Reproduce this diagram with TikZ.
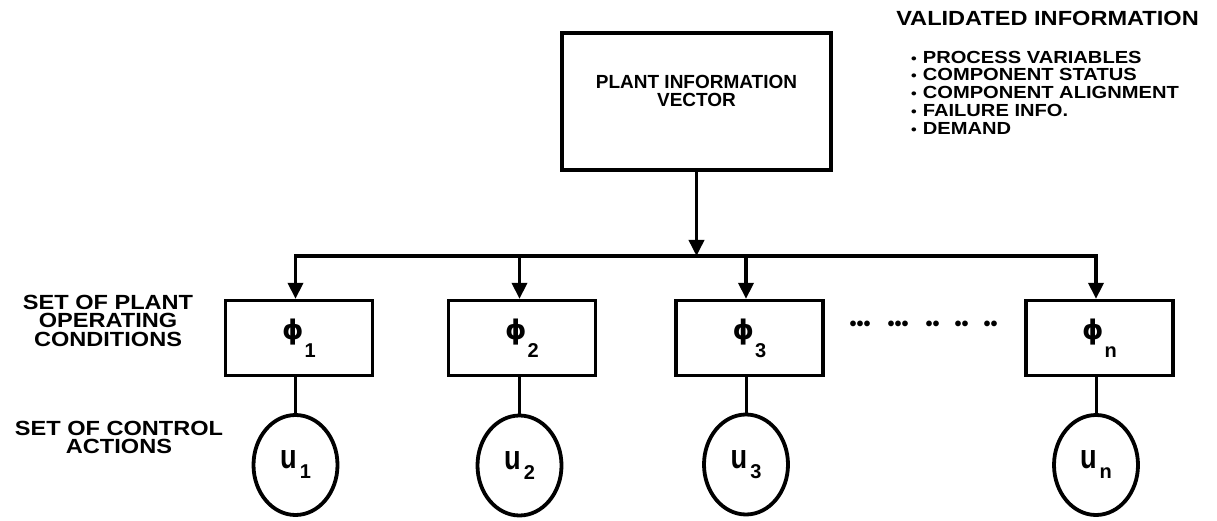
\documentclass[tikz,border=0pt]{standalone}
\usepackage{fontspec}
\setmainfont{Liberation Sans}
\newfontfamily\widefont{Liberation Sans}[FakeStretch=1.15]
\newfontfamily\phifont{DejaVu Sans}
\newfontfamily\ufont{Liberation Sans}[FakeStretch=0.8]
\usetikzlibrary{arrows.meta,shapes.geometric}
\tikzset{
  >={Triangle[width=15pt,length=16pt]},
  wire/.style={line width=3.6pt, line join=miter},
  thinwire/.style={line width=3pt},
  bigbox/.style={draw, line width=3.4pt, rectangle, minimum width=269pt, minimum height=137pt, inner sep=0pt},
  opbox/.style={draw, line width=3.3pt, rectangle, minimum width=147pt, minimum height=75pt, inner sep=0pt},
  act/.style={draw, line width=3.8pt, ellipse, minimum width=84pt, minimum height=100pt, inner sep=0pt},
  boxtext/.style={inner sep=0pt, align=center, font=\bfseries\fontsize{19}{18}\selectfont},
  sidetext/.style={inner sep=0pt, align=center, font=\widefont\bfseries\fontsize{20.5}{18.5}\selectfont},
  titletext/.style={inner sep=0pt, font=\widefont\bfseries\fontsize{20.5}{20}\selectfont},
  listtext/.style={inner sep=0pt, align=left, font=\widefont\bfseries\fontsize{17.5}{17.8}\selectfont},
  dotstext/.style={inner sep=0pt, font=\bfseries\fontsize{20}{20}\selectfont},
}
\newcommand{\phisub}[1]{{\phifont\bfseries\fontsize{27}{27}\selectfont ϕ}\hspace{1pt}\raisebox{-18pt}{\bfseries\fontsize{20}{20}\selectfont #1}}
\newcommand{\usub}[1]{{\ufont\bfseries\fontsize{34}{34}\selectfont u}\hspace{3pt}\raisebox{-10pt}{\bfseries\fontsize{20}{20}\selectfont #1}}
\newcommand{\lbul}{{\fontsize{14}{14}\selectfont •}\hspace{6pt}}
\begin{document}
\begin{tikzpicture}[x=1pt,y=-1pt]
\useasboundingbox (0,0) rectangle (1217,521);

% top box
\node[bigbox] (piv) at (696.5,101.5) {};
\node[boxtext, anchor=north] (pivt) at (696.5,75) {PLANT INFORMATION\\VECTOR};

% validated information
\node[titletext, anchor=north] (vtitle) at (1047.5,10.5) {VALIDATED INFORMATION};
\node[listtext, anchor=north west] (vlist) at (911,50.7) {\lbul PROCESS VARIABLES\\
\lbul COMPONENT STATUS\\
\lbul COMPONENT ALIGNMENT\\
\lbul FAILURE INFO.\\
\lbul DEMAND};

% side labels
\node[sidetext, anchor=north] (lab1) at (108,294.5) {SET OF PLANT\\OPERATING\\CONDITIONS};
\node[sidetext, anchor=north] (lab2) at (119,420.5) {SET OF CONTROL\\ACTIONS};

% operating condition boxes
\node[opbox] (b1) at (299,338) {\phisub{1}};
\node[opbox] (b2) at (522,338) {\phisub{2}};
\node[opbox] (b3) at (749.5,338) {\phisub{3}};
\node[opbox] (bn) at (1099.5,338) {\phisub{n}};

% control actions
\node[act] (u1) at (295.5,465) {\usub{1}};
\node[act] (u2) at (519.5,465.5) {\usub{2}};
\node[act] (u3) at (746,464.5) {\usub{3}};
\node[act] (un) at (1096,465) {\usub{n}};

% dots
\node[dotstext] (dots) at (923.5,326) {•••\hspace{17pt}•••\hspace{17pt}••\hspace{15pt}••\hspace{15pt}••};

% bus
\coordinate (bus) at (0,256);
\draw[wire,->] (piv.south) -- (piv.south |- bus);
\draw[wire,<->] (u1 |- b1.north) -- (u1 |- bus) -- (un |- bus) -- (un |- bn.north);
\draw[wire,->] (u2 |- bus) -- (u2 |- b2.north);
\draw[wire,->] (u3 |- bus) -- (u3 |- b3.north);

% box to action connectors
\draw[thinwire] (u1 |- b1.south) -- (u1.north);
\draw[thinwire] (u2 |- b2.south) -- (u2.north);
\draw[thinwire] (u3 |- b3.south) -- (u3.north);
\draw[thinwire] (un |- bn.south) -- (un.north);
\end{tikzpicture}
\end{document}
